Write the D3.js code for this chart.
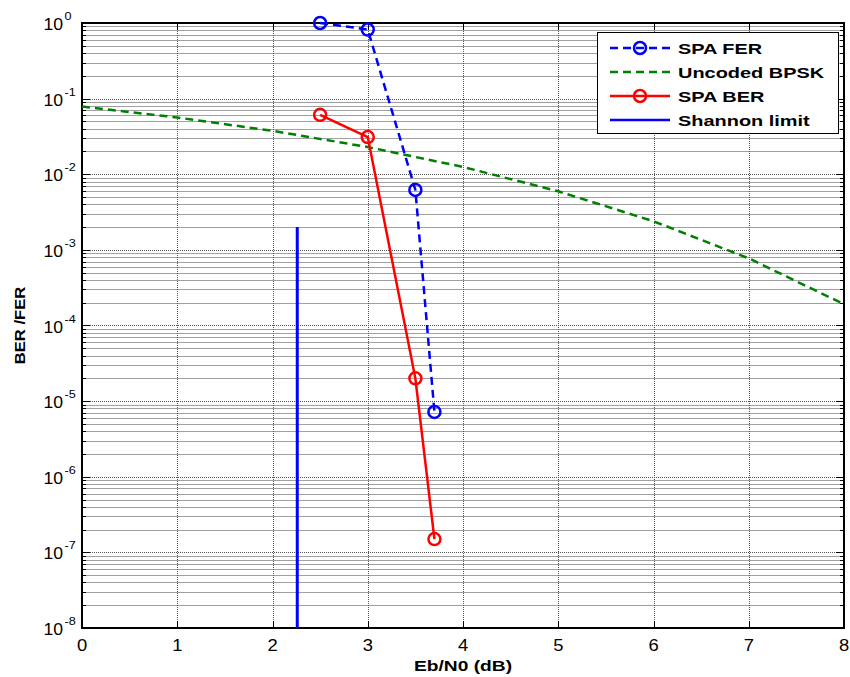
<!DOCTYPE html>
<html>
<head>
<meta charset="utf-8">
<title>BER / FER</title>
<script src="https://d3js.org/d3.v7.min.js"></script>
<style>
  body { margin: 0; background: #fff; }
  text { font-family: "Liberation Sans", Arial, sans-serif; }
</style>
</head>
<body>
<script>
// data
var ebn0 = [0, 1, 2, 3, 4, 5, 6, 7, 8];
var uncoded = [0.0786, 0.0563, 0.0375, 0.0229, 0.0125, 0.00595, 0.00239, 0.000773, 0.000191];
var spaX = [2.5, 3, 3.5, 3.7];
var spaFER = [1.0, 0.82, 0.0062, 0.0000072];
var spaBER = [0.061, 0.031, 0.00002, 0.00000015];
var shannonX = [2.26, 2.26];
var shannonY = [1e-8, 0.002];
var xTicks = [0, 1, 2, 3, 4, 5, 6, 7, 8];
var yDecades = [-8, -7, -6, -5, -4, -3, -2, -1, 0];
var legendNames = ["SPA FER", "Uncoded BPSK", "SPA BER", "Shannon limit"];

var w = 850, h = 677;
var pL = 82, pR = 844, pT = 23, pB = 628;

var svg = d3.select("body").append("svg").attr("width", w).attr("height", h);

var x = d3.scaleLinear().domain([0, 8]).range([pL, pR]);
var y = d3.scaleLog().domain([1e-8, 1]).range([pB, pT]);

// minor values 2..9 per decade
var minors = [];
yDecades.forEach(function (d) {
  if (d == 0) return;
  for (var k = 2; k <= 9; k++) minors.push(k * Math.pow(10, d));
});
var majors = yDecades.map(function (d) { return Math.pow(10, d); });

function ry(d) { return Math.round(y(d)) + 0.5; }
function rx(d) { return Math.round(x(d)) + 0.5; }

// stretched text helper (the reference text is wide)
function label(g, tx, ty, str, size, sx, anchor, bold) {
  var t = g.append("text")
    .attr("transform", "translate(" + tx + "," + ty + ") scale(" + sx + ",1)")
    .attr("font-size", size)
    .attr("text-anchor", anchor || "start")
    .text(str);
  if (bold) t.attr("font-weight", "bold");
  return t;
}

var grid = svg.append("g");
grid.selectAll("line.minor").data(minors).enter().append("line")
  .attr("class", "minor")
  .attr("x1", pL).attr("x2", pR)
  .attr("y1", ry).attr("y2", ry)
  .attr("stroke", "#a0a0a0").attr("stroke-width", 1);
grid.selectAll("line.major").data(majors).enter().append("line")
  .attr("class", "major")
  .attr("x1", pL).attr("x2", pR)
  .attr("y1", ry).attr("y2", ry)
  .attr("stroke", "#555").attr("stroke-width", 1).attr("stroke-dasharray", "1,1");
grid.selectAll("line.vx").data(xTicks).enter().append("line")
  .attr("class", "vx")
  .attr("x1", rx).attr("x2", rx)
  .attr("y1", pT).attr("y2", pB)
  .attr("stroke", "#555").attr("stroke-width", 1).attr("stroke-dasharray", "1,1");

// ticks
var ticks = svg.append("g").attr("stroke", "#000").attr("stroke-width", 1);
[pL, pR].forEach(function (ex) {
  var dir = ex == pL ? 1 : -1;
  ticks.selectAll(null).data(minors).enter().append("line")
    .attr("x1", ex).attr("x2", ex + dir * 4)
    .attr("y1", ry).attr("y2", ry);
  ticks.selectAll(null).data(majors).enter().append("line")
    .attr("x1", ex).attr("x2", ex + dir * 8)
    .attr("y1", ry).attr("y2", ry);
});
[pT, pB].forEach(function (ey) {
  var dir = ey == pT ? 1 : -1;
  ticks.selectAll(null).data(xTicks).enter().append("line")
    .attr("x1", rx).attr("x2", rx)
    .attr("y1", ey).attr("y2", ey + dir * 7);
});

// box
svg.append("rect").attr("x", pL).attr("y", pT)
  .attr("width", pR - pL).attr("height", pB - pT)
  .attr("fill", "none").attr("stroke", "#000").attr("stroke-width", 2);

// tick labels
var lab = svg.append("g");
xTicks.forEach(function (d) {
  label(lab, x(d), pB + 23, d, 16, 1.15, "middle");
});
yDecades.forEach(function (d) {
  var yy = y(Math.pow(10, d));
  label(lab, 63, yy + 7, "10", 16, 1.1, "end");
  label(lab, 64.5, yy - 3, d, 11.5, 1.1, "start");
});

// axis titles
label(lab, (pL + pR) / 2, pB + 43, "Eb/N0 (dB)", 15, 1.28, "middle", true);
lab.append("text").attr("transform", "translate(25," + ((pT + pB) / 2) + ") rotate(-90) scale(1.11,1)")
  .attr("text-anchor", "middle").attr("font-size", 15).attr("font-weight", "bold")
  .text("BER /FER");

// series
var line = d3.line().x(function (d) { return x(d[0]); }).y(function (d) { return y(d[1]); });
var plot = svg.append("g");

plot.append("path").datum(d3.zip(ebn0, uncoded)).attr("d", line)
  .attr("fill", "none").attr("stroke", "#008000").attr("stroke-width", 2.5)
  .attr("stroke-dasharray", "8,5");

plot.append("path").datum(d3.zip(shannonX, shannonY)).attr("d", line)
  .attr("fill", "none").attr("stroke", "#0000ff").attr("stroke-width", 3);

plot.append("path").datum(d3.zip(spaX, spaBER)).attr("d", line)
  .attr("fill", "none").attr("stroke", "#ff0000").attr("stroke-width", 2.5);
plot.selectAll("circle.ber").data(d3.zip(spaX, spaBER)).enter().append("circle")
  .attr("class", "ber")
  .attr("cx", function (d) { return x(d[0]); }).attr("cy", function (d) { return y(d[1]); })
  .attr("r", 6).attr("fill", "none").attr("stroke", "#ff0000").attr("stroke-width", 2.5);

plot.append("path").datum(d3.zip(spaX, spaFER)).attr("d", line)
  .attr("fill", "none").attr("stroke", "#0000ff").attr("stroke-width", 2.5)
  .attr("stroke-dasharray", "8,5");
plot.selectAll("circle.fer").data(d3.zip(spaX, spaFER)).enter().append("circle")
  .attr("class", "fer")
  .attr("cx", function (d) { return x(d[0]); }).attr("cy", function (d) { return y(d[1]); })
  .attr("r", 6).attr("fill", "none").attr("stroke", "#0000ff").attr("stroke-width", 2.5);

// legend
var lg = svg.append("g");
lg.append("rect").attr("x", 597.5).attr("y", 32.5).attr("width", 241).attr("height", 101)
  .attr("fill", "#fff").attr("stroke", "#000").attr("stroke-width", 1);
var styles = [
  { c: "#0000ff", dash: "8,5", mark: true },
  { c: "#008000", dash: "8,5", mark: false },
  { c: "#ff0000", dash: null, mark: true },
  { c: "#0000ff", dash: null, mark: false }
];
legendNames.forEach(function (n, i) {
  var ly = 48 + i * 24;
  var s = styles[i];
  lg.append("line").attr("x1", 610).attr("x2", 670).attr("y1", ly).attr("y2", ly)
    .attr("stroke", s.c).attr("stroke-width", 2.5).attr("stroke-dasharray", s.dash);
  if (s.mark) lg.append("circle").attr("cx", 640).attr("cy", ly).attr("r", 6)
    .attr("fill", "none").attr("stroke", s.c).attr("stroke-width", 2.5);
  label(lg, 678, ly + 5.5, n, 15, 1.33, "start", true);
});
</script>
</body>
</html>
